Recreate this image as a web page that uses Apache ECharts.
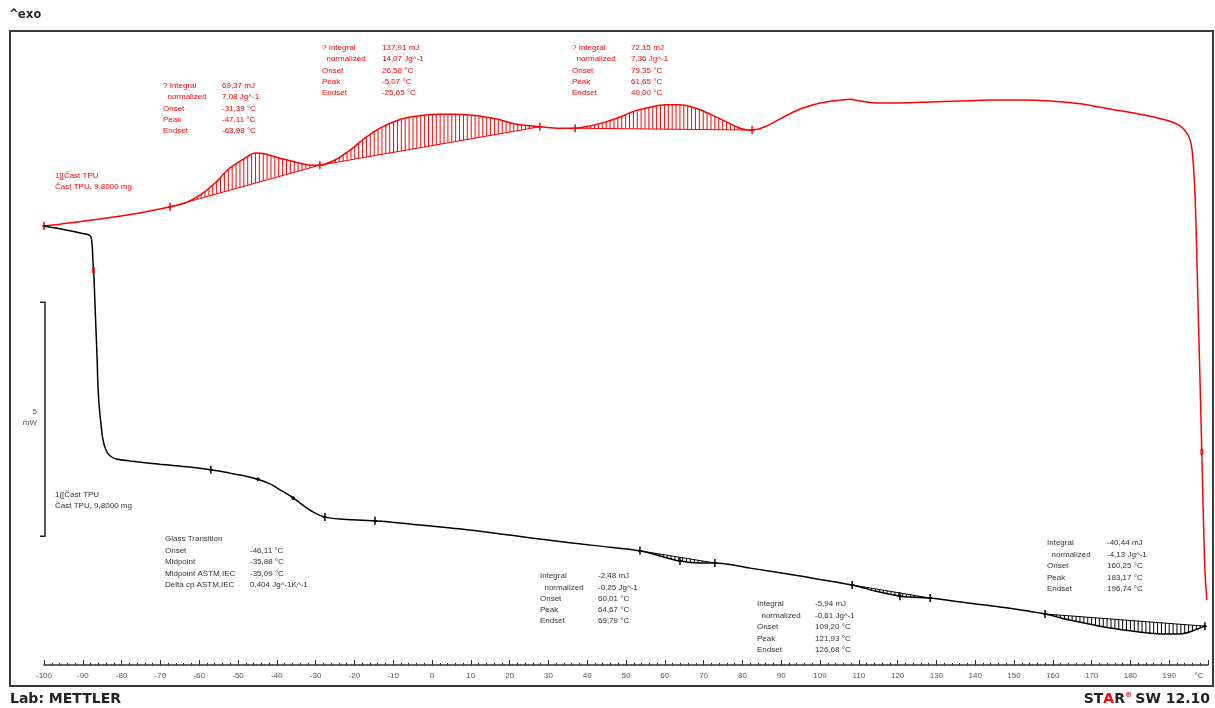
<!DOCTYPE html>
<html><head><meta charset="utf-8">
<script src="https://cdn.jsdelivr.net/npm/echarts@6/dist/echarts.min.js"></script>
<style>html,body{margin:0;padding:0;background:#fff}#c{width:1215px;height:708px}</style>
</head><body><div id="c"></div>
<script>
// ---- data (temperature °C, heat flow mW, arbitrary offset) ----
const redT = [-100,-95.9,-85.6,-75.3,-67.5,-63.7,-59.8,-55.9,-52.1,-48.2,-45.6,-43.0,-39.2,-35.3,-31.4,-28.9,-25.0,-21.1,-17.3,-13.4,-9.5,-5.7,-1.8,2.1,5.9,9.8,13.7,17.5,21.4,25.3,27.8,33.0,36.9,40.7,44.6,48.5,52.3,56.2,60.1,63.9,67.8,71.7,75.5,79.4,82.5,85.8,89.7,94.9,100.0,105.2,107.7,110.3,114.2,120.6,128.4,136.1,143.8,151.6,159.3,167.0,174.7,182.5,188.9,192.8,194.9,195.9,196.7,197.4,198.2,198.7,199.2,199.7];
const redY = [9.38,9.42,9.53,9.66,9.79,9.87,10.04,10.30,10.62,10.83,10.94,10.92,10.83,10.75,10.68,10.68,10.79,11.00,11.26,11.47,11.62,11.71,11.75,11.77,11.77,11.75,11.71,11.65,11.56,11.52,11.50,11.47,11.47,11.52,11.60,11.71,11.84,11.92,11.97,11.97,11.90,11.77,11.62,11.47,11.43,11.50,11.67,11.88,12.01,12.07,12.09,12.05,12.01,12.01,12.03,12.05,12.07,12.07,12.05,11.99,11.88,11.77,11.65,11.52,11.32,11.00,9.94,7.80,5.24,3.53,2.03,1.39];
const blackT = [-100,-95.9,-90.7,-88.1,-87.6,-87.4,-87.1,-86.9,-86.6,-86.3,-86.1,-85.8,-85.3,-84.8,-84.0,-83.0,-81.4,-77.8,-70.1,-62.4,-57.0,-52.1,-48.2,-44.9,-41.8,-38.7,-35.8,-32.7,-30.2,-27.6,-23.7,-14.7,-3.1,12.4,27.8,43.3,53.6,58.8,63.9,69.1,72.9,82.0,94.9,108.3,114.2,120.6,124.5,128.4,138.7,146.4,158.0,164.4,172.2,179.9,185.1,190.2,194.1,196.7,199.2];
const blackY = [9.38,9.32,9.23,9.17,8.97,8.65,8.23,7.80,7.16,6.52,5.98,5.56,5.13,4.81,4.59,4.47,4.40,4.36,4.29,4.23,4.17,4.10,4.04,3.97,3.87,3.72,3.57,3.38,3.25,3.16,3.12,3.08,2.99,2.86,2.69,2.54,2.44,2.33,2.22,2.18,2.18,2.07,1.90,1.71,1.58,1.47,1.45,1.43,1.32,1.24,1.09,0.96,0.83,0.73,0.68,0.66,0.68,0.75,0.83];
// integration limits (°C)
const redPeaks = [[-67.5,-28.9],[-28.9,27.8],[36.9,82.5]];
const blackPeaks = [[53.6,72.9],[108.3,128.4],[158.0,199.2]];
// evaluation marks (°C)
const redMarks = [-100,-67.5,-28.9,27.8,36.9,82.5];
const blackMarks = [-57.0,-27.6,-14.7,53.6,63.9,72.9,108.3,120.6,128.4,158.0,199.2];
const blackSmallMarks = [-44.9,-35.8];
const midMarksBlack = [-87.25];
const midMarksRed = [198.4];
// axis
const xMin = -100, xMax = 200, xStep = 10;
const yMin = 0, yMax = 13.5;
const scaleBarMW = 5;
// texts
const redCurveLabel = ['1][Čast TPU', 'Čast TPU, 9,8000 mg'];
const blackCurveLabel = ['1([Čast TPU', 'Čast TPU, 9,8000 mg'];
const peakRows = ['? Integral', '  normalized', 'Onset', 'Peak', 'Endset'];
const redVals = [
  ['69,37 mJ','7,08 Jg^-1','-31,39 °C','-47,11 °C','-63,98 °C'],
  ['137,91 mJ','14,07 Jg^-1','26,58 °C','-5,07 °C','-25,65 °C'],
  ['72,15 mJ','7,36 Jg^-1','79,35 °C','61,65 °C','40,00 °C']
];
const blackRows = ['Integral', '  normalized', 'Onset', 'Peak', 'Endset'];
const blackVals = [
  ['-2,48 mJ','-0,25 Jg^-1','60,01 °C','64,67 °C','69,79 °C'],
  ['-5,94 mJ','-0,61 Jg^-1','109,20 °C','121,93 °C','126,68 °C'],
  ['-40,44 mJ','-4,13 Jg^-1','160,25 °C','183,17 °C','196,74 °C']
];
const gtRows = ['Onset','Midpoint','Midpoint ASTM,IEC','Delta cp ASTM,IEC'];
const gtVals = ['-46,11 °C','-35,88 °C','-35,09 °C','0,404 Jg^-1K^-1'];

// ---- helpers ----
function interp(Ts, Ys, t){
  if (t <= Ts[0]) return Ys[0];
  for (let i=1;i<Ts.length;i++){ if (t<=Ts[i]){ const f=(t-Ts[i-1])/(Ts[i]-Ts[i-1]); return Ys[i-1]+f*(Ys[i]-Ys[i-1]); } }
  return Ys[Ys.length-1];
}
function zip(a,b){ return a.map((v,i)=>[v,b[i]]); }
function hatchData(Ts, Ys, peaks, step){
  const out=[];
  peaks.forEach(([a,b])=>{
    const ya=interp(Ts,Ys,a), yb=interp(Ts,Ys,b);
    for(let t=a;t<=b+1e-6;t+=step){
      const base=ya+(yb-ya)*(t-a)/(b-a);
      out.push([t, interp(Ts,Ys,t), base]);
    }
  });
  return out;
}
function baseLines(Ts, Ys, peaks){
  return peaks.map(([a,b])=>[a,interp(Ts,Ys,a),b,interp(Ts,Ys,b)]);
}
function hatchSeries(Ts,Ys,peaks,color){
  return [{
    type:'custom', coordinateSystem:'cartesian2d', silent:true, z:3,
    data: hatchData(Ts,Ys,peaks,1.0),
    renderItem:(params,api)=>{
      const p1=api.coord([api.value(0),api.value(1)]), p2=api.coord([api.value(0),api.value(2)]);
      return {type:'line',shape:{x1:p1[0],y1:p1[1],x2:p2[0],y2:p2[1]},style:{stroke:color,lineWidth:1}};
    }
  },{
    type:'custom', coordinateSystem:'cartesian2d', silent:true, z:3,
    data: baseLines(Ts,Ys,peaks),
    renderItem:(params,api)=>{
      const p1=api.coord([api.value(0),api.value(1)]), p2=api.coord([api.value(2),api.value(3)]);
      return {type:'line',shape:{x1:p1[0],y1:p1[1],x2:p2[0],y2:p2[1]},style:{stroke:color,lineWidth:1}};
    }
  }];
}
function markSeries(Ts,Ys,marks,color,half){
  return {
    type:'custom', coordinateSystem:'cartesian2d', silent:true, z:4,
    data: marks.map(t=>[t, interp(Ts,Ys,t)]),
    renderItem:(params,api)=>{
      const p=api.coord([api.value(0),api.value(1)]);
      return {type:'group',children:[
        {type:'line',shape:{x1:p[0],y1:p[1]-half,x2:p[0],y2:p[1]+half},style:{stroke:color,lineWidth:1.5}},
        {type:'line',shape:{x1:p[0]-2,y1:p[1],x2:p[0]+2,y2:p[1]},style:{stroke:color,lineWidth:1.5}}
      ]};
    }
  };
}
function midSeries(Ts,Ys,marks,color){
  return {type:'scatter', symbol:'rect', symbolSize:[3,6], itemStyle:{color}, silent:true, z:5,
    data: marks.map(t=>[t, interp(Ts,Ys,t)])};
}

const FONT = '"Liberation Sans", Arial, sans-serif';
function block(x, y, labels, vals, dx, color, lh){
  const ch=[];
  labels.forEach((l,i)=>{
    ch.push({type:'text', x:x, y:y+i*lh, style:{text:l, fill:color, font:'8px '+FONT, textVerticalAlign:'middle'}});
    ch.push({type:'text', x:x+dx, y:y+i*lh, style:{text:vals[i], fill:color, font:'8px '+FONT, textVerticalAlign:'middle'}});
  });
  return ch;
}

const chart = echarts.init(document.getElementById('c'), null, {renderer:'canvas'});
const RED='#ff0000', BLK='#000000', TXT='#333333';

const graphics = [];
graphics.push({type:'rect', shape:{x:10,y:31,width:1203,height:655}, style:{fill:'none', stroke:'#3a3a3a', lineWidth:2}, z:0});
graphics.push({type:'text', x:10, y:15, style:{text:'^exo', fill:'#222', font:'bold 13px "DejaVu Sans Mono", monospace', textVerticalAlign:'middle'}});
graphics.push({type:'text', x:10, y:699, style:{text:'Lab: METTLER', fill:'#222', font:'bold 14px "DejaVu Sans", sans-serif', textVerticalAlign:'middle'}});
graphics.push({type:'text', x:1210, y:699, style:{
  text:'{a|ST}{r|A}{a|R}{s|®} {a|SW 12.10}', align:'right', textAlign:'right', textVerticalAlign:'middle',
  rich:{a:{fill:'#222', font:'bold 14px "DejaVu Sans", sans-serif'}, r:{fill:'#ff0000', font:'bold 14px "DejaVu Sans", sans-serif'}, s:{fill:'#ff0000', font:'bold 7px "DejaVu Sans", sans-serif', verticalAlign:'top'}}
}});
graphics.push({type:'text', x:1199, y:676, style:{text:'°C', fill:'#555', font:'8px '+FONT, textAlign:'center', textVerticalAlign:'middle'}});
// annotation blocks
graphics.push(...block(163, 86, peakRows, redVals[0], 59, RED, 11.2));
graphics.push(...block(322, 48, peakRows, redVals[1], 60, RED, 11.2));
graphics.push(...block(572, 48, peakRows, redVals[2], 59, RED, 11.2));
graphics.push(...block(55, 176, redCurveLabel, ['',''], 0, RED, 11));
graphics.push(...block(55, 495, blackCurveLabel, ['',''], 0, TXT, 11));
graphics.push({type:'text', x:165, y:539, style:{text:'Glass Transition', fill:TXT, font:'8px '+FONT, textVerticalAlign:'middle'}});
graphics.push(...block(165, 550.5, gtRows, gtVals, 85, TXT, 11.5));
graphics.push(...block(540, 576, blackRows, blackVals[0], 58, TXT, 11.3));
graphics.push(...block(757, 604, blackRows, blackVals[1], 58, TXT, 11.5));
graphics.push(...block(1047, 543, blackRows, blackVals[2], 60, TXT, 11.5));

chart.setOption({
  animation:false,
  backgroundColor:'#fff',
  grid:{left:44, right:7, top:665-(yMax-yMin)*46.8, bottom:43, containLabel:false},
  xAxis:{type:'value', min:xMin, max:xMax, interval:xStep, position:'bottom',
    axisLine:{show:true, lineStyle:{color:'#333', width:1.5}},
    axisTick:{show:true, inside:true, length:5, lineStyle:{color:'#333', width:1}},
    minorTick:{show:true, splitNumber:5, length:2, lineStyle:{color:'#333'}},
    axisLabel:{color:'#555', fontSize:8, fontFamily:FONT, margin:7, formatter:v=> v>=xMax ? '' : String(v), showMaxLabel:true, showMinLabel:true},
    splitLine:{show:false}},
  yAxis:{type:'value', min:yMin, max:yMax, show:false, splitLine:{show:false}},
  series:[
    {type:'line', data:zip(redT,redY), showSymbol:false, smooth:0.3, lineStyle:{color:RED, width:1.5}, z:4, silent:true},
    {type:'line', data:zip(blackT,blackY), showSymbol:false, smooth:0.3, lineStyle:{color:BLK, width:1.5}, z:4, silent:true},
    ...hatchSeries(redT,redY,redPeaks,RED),
    ...hatchSeries(blackT,blackY,blackPeaks,BLK),
    markSeries(redT,redY,redMarks,RED,4),
    markSeries(blackT,blackY,blackMarks,BLK,4),
    markSeries(blackT,blackY,blackSmallMarks,BLK,2),
    midSeries(blackT,blackY,midMarksBlack,RED),
    midSeries(redT,redY,midMarksRed,RED)
  ],
  graphic: graphics
});

// 5 mW scale bar from the y scale
const yTop = chart.convertToPixel({gridIndex:0}, [0, 7.75])[1];
const yBot = chart.convertToPixel({gridIndex:0}, [0, 7.75-scaleBarMW])[1];
const bx = 45;
graphics.push({type:'polyline', shape:{points:[[40,yTop],[bx,yTop],[bx,yBot],[40,yBot]]}, style:{stroke:'#222', lineWidth:1.5, fill:'none'}});
graphics.push({type:'text', x:37, y:(yTop+yBot)/2 - 2, style:{text:scaleBarMW+'\nmW', fill:'#555', font:'8px '+FONT, textAlign:'right', textVerticalAlign:'middle', lineHeight:11}});
chart.setOption({graphic: graphics}, {replaceMerge:['graphic']});
</script></body></html>
